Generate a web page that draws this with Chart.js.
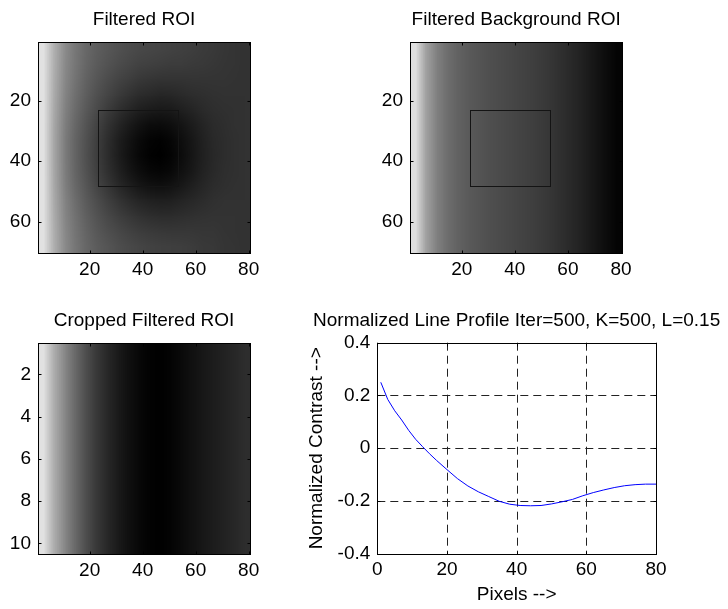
<!DOCTYPE html>
<html>
<head>
<meta charset="utf-8">
<script src="https://cdn.jsdelivr.net/npm/chart.js@4.4.1/dist/chart.umd.min.js"></script>
<style>
  html, body { margin: 0; padding: 0; background: #fff; }
  #wrap { position: relative; width: 728px; height: 609px; }
  #wrap canvas { position: absolute; left: 0; top: 0; }
</style>
</head>
<body>
<div id="wrap">
  <canvas id="roiChart" width="728" height="609"></canvas>
  <canvas id="bgChart" width="728" height="609"></canvas>
  <canvas id="cropChart" width="728" height="609"></canvas>
  <canvas id="profileChart" width="728" height="609"></canvas>
</div>
<script>
// image axes
const imgXTicks = [20, 40, 60, 80];
const roiYTicks = [20, 40, 60];
const cropYTicks = [2, 4, 6, 8, 10];
const roiCols = 80;
const roiRowCount = 70;
const cropRowCount = 10;
const roiBox = [23, 53, 23, 48]; // x1, x2, y1, y2 in pixels

// filtered ROI, gray levels sampled every 4 columns / 5 rows
const roiRows = [
  [225,175,140,119,104,94,87,81,76,72,70,68,66,64,62,59,57,54,52,50],
  [225,174,138,118,102,91,83,76,71,66,64,62,60,60,58,57,55,53,52,50],
  [225,172,136,115,98,86,76,68,62,56,53,51,51,51,52,52,52,52,51,50],
  [225,170,133,111,94,80,69,59,51,44,41,38,39,42,45,47,49,50,50,50],
  [225,168,130,107,89,74,60,48,39,31,27,25,26,31,36,42,46,48,49,50],
  [225,166,127,103,84,67,51,38,27,18,12,11,14,20,28,36,43,46,49,50],
  [225,165,125,100,81,63,46,31,20,10,4,2,6,14,23,33,41,45,48,50],
  [225,165,125,100,80,62,45,30,18,8,2,0,4,12,22,32,40,45,48,50],
  [225,166,126,101,82,64,48,34,22,13,7,5,8,16,24,34,41,46,48,50],
  [225,167,128,104,86,69,55,41,31,22,17,15,18,24,31,38,44,47,49,50],
  [225,169,132,109,91,77,64,53,44,37,33,31,32,36,40,44,48,50,50,50],
  [225,171,134,113,96,83,72,63,56,50,46,44,44,46,48,50,51,51,51,50],
  [225,173,137,116,100,88,79,72,66,61,58,56,55,55,55,54,54,52,51,50],
  [225,174,139,118,103,92,85,78,73,69,66,64,63,62,60,57,56,53,52,50]
];
// filtered background ROI, same along every row
const backgroundCols = [222,160,128,110,98,90,84,79,75,71,67,63,58,52,45,38,30,21,12,4];
// cropped filtered ROI, same along every row
const croppedCols = [225,172,135,105,78,56,40,27,16,8,3,1,4,10,17,23,29,34,39,45];

// normalized line profile
const profileX = [1,3,5,7,9,11,13,15,17,20,23,26,29,32,35,38,41,44,47,50,53,56,59,62,65,68,71,74,77,80];
const profileY = [0.250,0.185,0.142,0.107,0.068,0.034,0.006,-0.021,-0.046,-0.081,-0.115,-0.143,-0.165,-0.183,-0.201,-0.212,-0.217,-0.218,-0.217,-0.211,-0.203,-0.194,-0.180,-0.168,-0.158,-0.149,-0.142,-0.138,-0.136,-0.136];
const profileXTicks = [0, 20, 40, 60, 80];
const profileYTicks = [-0.4, -0.2, 0, 0.2, 0.4];

const FONT = { family: '"Liberation Sans", Arial, sans-serif', size: 19 };

const grayImage = {
  id: 'grayImage',
  beforeDatasetsDraw(chart, args, opts) {
    if (!opts.rows) return;
    const { ctx, scales: { x, y } } = chart;
    const rows = opts.rows;
    const h = rows.length, w = rows[0].length;
    const off = document.createElement('canvas');
    off.width = w;
    off.height = h;
    const octx = off.getContext('2d');
    const img = octx.createImageData(w, h);
    rows.forEach((row, j) => row.forEach((v, i) => {
      const k = (j * w + i) * 4;
      img.data[k] = img.data[k + 1] = img.data[k + 2] = v;
      img.data[k + 3] = 255;
    }));
    octx.putImageData(img, 0, 0);
    const x0 = x.getPixelForValue(x.min), x1 = x.getPixelForValue(x.max);
    const y0 = y.getPixelForValue(y.min), y1 = y.getPixelForValue(y.max);
    ctx.save();
    ctx.imageSmoothingEnabled = true;
    ctx.drawImage(off, Math.min(x0, x1), Math.min(y0, y1), Math.abs(x1 - x0), Math.abs(y1 - y0));
    if (opts.box) {
      const [bx1, bx2, by1, by2] = opts.box;
      const px1 = x.getPixelForValue(bx1), px2 = x.getPixelForValue(bx2);
      const py1 = y.getPixelForValue(by1), py2 = y.getPixelForValue(by2);
      ctx.strokeStyle = '#141414';
      ctx.lineWidth = 1;
      ctx.strokeRect(Math.round(px1) + 0.5, Math.round(py1) + 0.5, Math.round(px2 - px1), Math.round(py2 - py1));
    }
    ctx.restore();
  }
};

const frame = {
  id: 'frame',
  beforeDatasetsDraw(chart, args, opts) {
    if (!opts.grid) return;
    const { ctx, chartArea: a, scales: { x, y } } = chart;
    ctx.save();
    ctx.strokeStyle = '#222';
    ctx.lineWidth = 1;
    ctx.setLineDash([8, 5]);
    x.ticks.forEach(t => {
      const px = Math.round(x.getPixelForValue(t.value)) + 0.5;
      ctx.beginPath(); ctx.moveTo(px, a.top); ctx.lineTo(px, a.bottom); ctx.stroke();
    });
    y.ticks.forEach(t => {
      const py = Math.round(y.getPixelForValue(t.value)) + 0.5;
      ctx.beginPath(); ctx.moveTo(a.left, py); ctx.lineTo(a.right, py); ctx.stroke();
    });
    ctx.restore();
  },
  afterDatasetsDraw(chart, args, opts) {
    const { ctx, chartArea: a, scales: { x, y } } = chart;
    const l = Math.round(a.left) + 0.5, r = Math.round(a.right) + 0.5;
    const t = Math.round(a.top) + 0.5, b = Math.round(a.bottom) + 0.5;
    ctx.save();
    ctx.strokeStyle = '#000';
    ctx.lineWidth = 1;
    ctx.beginPath();
    x.ticks.forEach(tk => {
      const px = Math.round(x.getPixelForValue(tk.value)) + 0.5;
      ctx.moveTo(px, t); ctx.lineTo(px, t + 3);
      ctx.moveTo(px, b); ctx.lineTo(px, b - 3);
    });
    y.ticks.forEach(tk => {
      const py = Math.round(y.getPixelForValue(tk.value)) + 0.5;
      ctx.moveTo(l, py); ctx.lineTo(l + 3, py);
      ctx.moveTo(r, py); ctx.lineTo(r - 3, py);
    });
    ctx.stroke();
    ctx.strokeRect(l, t, r - l, b - t);
    ctx.fillStyle = '#000';
    ctx.font = FONT.size + 'px ' + FONT.family;
    ctx.textAlign = 'center';
    ctx.textBaseline = 'alphabetic';
    ctx.fillText(opts.title, (a.left + a.right) / 2, a.top - 16.5);
    ctx.restore();
  }
};

function fixedTicks(values) {
  return s => { s.ticks = values.map(v => ({ value: v })); };
}

function imageChart(id, title, rows, yTicks, nRows, box, area) {
  const [L, T, R, B] = area;
  const yw = 40, xh = 40;
  return new Chart(document.getElementById(id), {
    type: 'scatter',
    data: { datasets: [{ data: [] }] },
    plugins: [grayImage, frame],
    options: {
      responsive: false,
      animation: false,
      events: [],
      layout: { padding: { left: L - yw, top: T, right: 728 - R, bottom: 609 - B - xh } },
      plugins: {
        legend: { display: false },
        tooltip: { enabled: false },
        grayImage: { rows: rows, box: box },
        frame: { title: title }
      },
      scales: {
        x: {
          type: 'linear', min: 0.5, max: roiCols + 0.5,
          afterBuildTicks: fixedTicks(imgXTicks),
          afterFit: s => { s.height = xh; },
          grid: { display: false, drawTicks: false },
          border: { display: false },
          ticks: { padding: 5, color: '#000', font: FONT, maxRotation: 0 }
        },
        y: {
          type: 'linear', min: 0.5, max: nRows + 0.5, reverse: true,
          afterBuildTicks: fixedTicks(yTicks),
          afterFit: s => { s.width = yw; },
          grid: { display: false, drawTicks: false },
          border: { display: false },
          ticks: { padding: 7, color: '#000', font: FONT }
        }
      }
    }
  });
}

imageChart('roiChart', 'Filtered ROI', roiRows, roiYTicks, roiRowCount, roiBox, [38, 41.7, 250, 253.3]);
imageChart('bgChart', 'Filtered Background ROI', [backgroundCols], roiYTicks, roiRowCount, roiBox, [410, 41.7, 622.3, 253.3]);
imageChart('cropChart', 'Cropped Filtered ROI', Array.from({ length: cropRowCount }, () => croppedCols), cropYTicks, cropRowCount, null, [38, 342.6, 250, 553.9]);

(function () {
  const L = 377.3, T = 342.7, R = 656, B = 553.8;
  const yw = 72, xh = 52.4;
  new Chart(document.getElementById('profileChart'), {
    type: 'line',
    data: {
      datasets: [{
        data: profileX.map((x, i) => ({ x: x, y: profileY[i] })),
        borderColor: '#0000ff',
        borderWidth: 1,
        pointRadius: 0,
        tension: 0,
        fill: false
      }]
    },
    plugins: [frame],
    options: {
      responsive: false,
      animation: false,
      events: [],
      layout: { padding: { left: L - yw, top: T, right: 728 - R, bottom: 609 - B - xh } },
      plugins: {
        legend: { display: false },
        tooltip: { enabled: false },
        frame: { title: 'Normalized Line Profile Iter=500, K=500, L=0.15', grid: true }
      },
      scales: {
        x: {
          type: 'linear', min: 0, max: 80,
          afterBuildTicks: fixedTicks(profileXTicks),
          afterFit: s => { s.height = xh; },
          grid: { display: false, drawTicks: false },
          border: { display: false },
          ticks: { padding: 5, color: '#000', font: FONT, maxRotation: 0 },
          title: { display: true, text: 'Pixels -->', color: '#000', font: FONT, padding: 0 }
        },
        y: {
          type: 'linear', min: -0.4, max: 0.4,
          afterBuildTicks: fixedTicks(profileYTicks),
          afterFit: s => { s.width = yw; },
          grid: { display: false, drawTicks: false },
          border: { display: false },
          ticks: { padding: 7, color: '#000', font: FONT, callback: v => String(Math.round(v * 10) / 10) },
          title: { display: true, text: 'Normalized Contrast -->', color: '#000', font: FONT, padding: 0 }
        }
      }
    }
  });
})();
</script>
</body>
</html>
